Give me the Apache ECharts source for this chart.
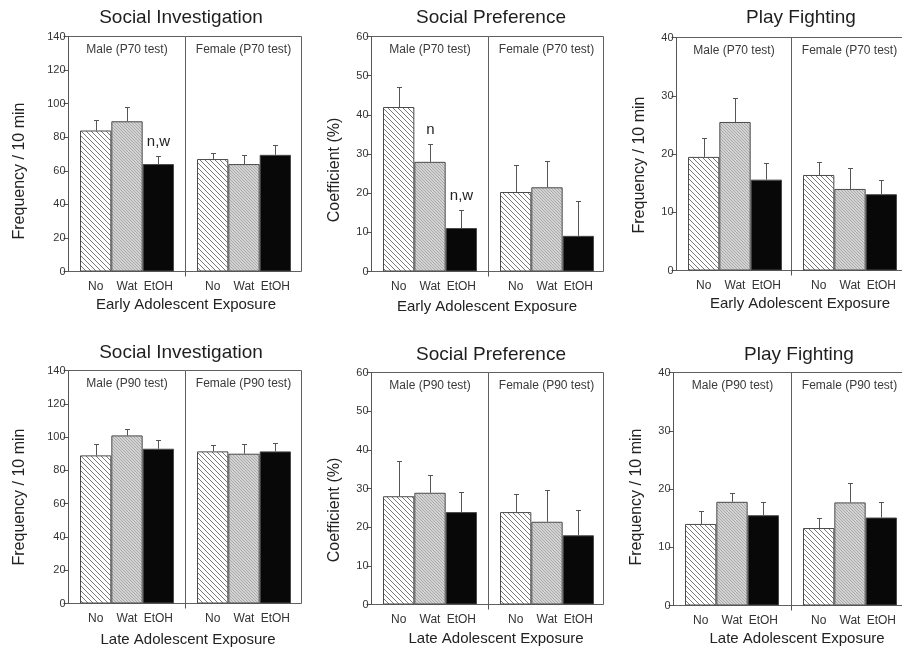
<!DOCTYPE html>
<html><head><meta charset="utf-8">
<script src="https://cdn.jsdelivr.net/npm/echarts@6/dist/echarts.min.js"></script>
<style>html,body{margin:0;padding:0;background:#fff}#c{width:902px;height:652px}</style>
</head><body><div id="c"></div>
<script>
// ---------- data ----------
const treatments = ['No', 'Wat', 'EtOH'];
const sexes = ['Male', 'Female'];
const measures = ['Social Investigation', 'Social Preference', 'Play Fighting'];
const yTitles = ['Frequency / 10 min', 'Coefficient (%)', 'Frequency / 10 min'];
const exposures = ['Early Adolescent Exposure', 'Late Adolescent Exposure'];
const testAges = ['P70 test', 'P90 test'];
const yMax = [140, 60, 40];
const yStep = [20, 10, 10];

// means per sex [male, female], each in treatment order No, Wat, EtOH
const earlySIMean = [[84, 89.5, 64], [67, 64, 69.5]];
const earlySISem  = [[6, 8.5, 5], [3.6, 5.6, 6]];
const earlySPMean = [[42, 28, 11.1], [20.3, 21.5, 9.1]];
const earlySPSem  = [[5, 4.6, 4.6], [6.8, 6.8, 9]];
const earlyPFMean = [[19.5, 25.5, 15.6], [16.4, 14, 13.1]];
const earlyPFSem  = [[3.3, 4.1, 2.9], [2.3, 3.6, 2.5]];
const lateSIMean  = [[89, 101, 93], [91.4, 90, 91.4]];
const lateSISem   = [[7, 3.6, 5], [4, 5.6, 5.2]];
const lateSPMean  = [[28, 28.9, 23.9], [23.9, 21.4, 17.9]];
const lateSPSem   = [[9, 4.5, 5.2], [4.7, 8.3, 6.6]];
const latePFMean  = [[14, 17.8, 15.5], [13.3, 17.7, 15.1]];
const latePFSem   = [[2.2, 1.5, 2.3], [1.8, 3.3, 2.7]];
// significance marks (n = vs No, w = vs Wat)
const earlySIMarks = [['', '', 'n,w'], ['', '', '']];
const earlySPMarks = [['', 'n', 'n,w'], ['', '', '']];
const noMarks = [['', '', ''], ['', '', '']];

const panelMeans = [earlySIMean, earlySPMean, earlyPFMean, lateSIMean, lateSPMean, latePFMean];
const panelSems  = [earlySISem, earlySPSem, earlyPFSem, lateSISem, lateSPSem, latePFSem];
const panelMarks = [earlySIMarks, earlySPMarks, noMarks, noMarks, noMarks, noMarks];

// ---------- layout ----------
const layouts = [
  {L: 68.5,  T: 36.5,  B: 271.5, D: 185.5, R: 301.5, tx: 181, ty: 18,  xtx: 186, xty: 305, ynx: 20,  yny: 171},
  {L: 371.5, T: 36.5,  B: 271.5, D: 488.5, R: 603.5, tx: 491, ty: 18,  xtx: 487, xty: 307, ynx: 335, yny: 170},
  {L: 676.5, T: 37.5,  B: 270.5, D: 791.5, R: 920.5, tx: 801, ty: 18,  xtx: 800, xty: 304, ynx: 640, yny: 165},
  {L: 68.5,  T: 370.5, B: 603.5, D: 185.5, R: 301.5, tx: 181, ty: 353, xtx: 188, xty: 640, ynx: 20,  yny: 497},
  {L: 371.5, T: 372.5, B: 604.5, D: 488.5, R: 603.5, tx: 491, ty: 355, xtx: 496, xty: 639, ynx: 335, yny: 510},
  {L: 673.5, T: 372.5, B: 605.5, D: 791.5, R: 920.5, tx: 799, ty: 355, xtx: 797, xty: 639, ynx: 637, yny: 497}
];

const FONT = '"Liberation Sans", Arial, Helvetica, sans-serif';

function makePattern(bg, fg, size, lw, dir) {
  const c = document.createElement('canvas');
  c.width = c.height = size;
  const g = c.getContext('2d');
  g.fillStyle = bg; g.fillRect(0, 0, size, size);
  g.strokeStyle = fg; g.lineWidth = lw;
  for (const k of [-size, 0, size]) {
    g.beginPath();
    if (dir > 0) { g.moveTo(k, 0); g.lineTo(k + size, size); }
    else { g.moveTo(k, size); g.lineTo(k + size, 0); }
    g.stroke();
  }
  return {image: c, repeat: 'repeat'};
}
const barFills = [
  makePattern('#ffffff', '#7a7a7a', 5, 1, 1),
  makePattern('#d2d2d2', '#a6a6a6', 3, 0.9, 1),
  '#080808'
];

const grids = [], xAxes = [], yAxes = [], series = [], graphics = [];
const axisColor = '#555';
const frameColor = '#606060';

for (let p = 0; p < 6; p++) {
  const row = Math.floor(p / 3), col = p % 3, lay = layouts[p];
  const h = lay.B - lay.T;
  for (let s = 0; s < 2; s++) {
    const fx = s === 0 ? lay.L : lay.D;
    const fw = s === 0 ? lay.D - lay.L : lay.R - lay.D;
    // panels cut at the right page edge: frame drawn with axis lines (no right side)
    const openRight = (s === 1 && col === 2);
    // frame grid
    const gi = grids.length;
    grids.push({left: fx, top: lay.T, width: fw, height: h, show: !openRight, outerBoundsMode: 'none',
      borderColor: frameColor, borderWidth: 1, backgroundColor: 'transparent'});
    if (s === 0) {
      yAxes.push({gridIndex: gi, type: 'value', min: 0, max: yMax[col], interval: yStep[col],
        axisLine: {show: true, lineStyle: {color: axisColor, width: 1}},
        axisTick: {show: true, length: 5, lineStyle: {color: axisColor}},
        axisLabel: {fontSize: 11, color: '#333', margin: 3, fontFamily: FONT},
        splitLine: {show: false}});
      xAxes.push({gridIndex: gi, type: 'value', min: 0, max: 1,
        axisLine: {show: false}, axisLabel: {show: false}, splitLine: {show: false},
        axisTick: {show: true, customValues: [1], length: 5, lineStyle: {color: axisColor}}});
    } else {
      yAxes.push({gridIndex: gi, type: 'value', min: 0, max: yMax[col], interval: yStep[col],
        show: openRight, axisLine: {show: true, lineStyle: {color: frameColor, width: 1}},
        axisTick: {show: false}, axisLabel: {show: false}, splitLine: {show: false}});
      xAxes.push({gridIndex: gi, type: 'value', min: 0, max: 1, position: 'bottom',
        show: openRight, axisLine: {show: true, lineStyle: {color: frameColor, width: 1}},
        axisTick: {show: false}, axisLabel: {show: false}, splitLine: {show: false}});
      if (openRight) {
        xAxes.push({gridIndex: gi, type: 'value', min: 0, max: 1, position: 'top',
          axisLine: {show: true, lineStyle: {color: frameColor, width: 1}},
          axisTick: {show: false}, axisLabel: {show: false}, splitLine: {show: false}});
      }
    }
    // bar grid
    const bi = grids.length;
    grids.push({left: fx + 11.5, top: lay.T, width: 94, height: h, outerBoundsMode: 'none'});
    const bxi = xAxes.length, byi = yAxes.length;
    xAxes.push({gridIndex: bi, type: 'category', data: treatments,
      axisLine: {show: false}, axisTick: {show: false},
      axisLabel: {interval: 0, fontSize: 12, color: '#333', margin: 9, fontFamily: FONT}});
    yAxes.push({gridIndex: bi, type: 'value', min: 0, max: yMax[col], interval: yStep[col], show: false,
      splitLine: {show: false}});
    const means = panelMeans[p][s], sems = panelSems[p][s], marks = panelMarks[p][s];
    series.push({type: 'bar', xAxisIndex: bxi, yAxisIndex: byi, barCategoryGap: '0%',
      data: means.map((v, i) => ({value: v,
        itemStyle: {color: barFills[i], borderColor: '#4a4a4a', borderWidth: 1}})),
      silent: true});
    series.push({type: 'custom', xAxisIndex: bxi, yAxisIndex: byi, silent: true, z: 5,
      data: means.map((v, i) => [i, v, sems[i]]),
      renderItem: (params, api) => {
        const idx = api.value(0), m = api.value(1), e = api.value(2);
        const base = api.coord([idx, m]);
        const top = api.coord([idx, m + e]);
        const x = Math.round(base[0]) + 0.5;
        const yt = Math.round(top[1]) + 0.5;
        const children = [
          {type: 'line', shape: {x1: x, y1: base[1], x2: x, y2: yt}, style: {stroke: '#555', lineWidth: 1}},
          {type: 'line', shape: {x1: x - 2.5, y1: yt, x2: x + 2.5, y2: yt}, style: {stroke: '#555', lineWidth: 1}}
        ];
        const mk = marks[params.dataIndex];
        if (mk) children.push({type: 'text', style: {text: mk, x: x, y: yt - 15, align: 'center',
          verticalAlign: 'middle', fontSize: 15, fontFamily: FONT, fill: '#222'}});
        return {type: 'group', children};
      }});
    // group label
    const gcx = s === 0 ? (lay.L + lay.D) / 2 : lay.D + 58;
    graphics.push({type: 'text', x: gcx, y: lay.T + 13.5, silent: true,
      style: {text: sexes[s] + ' (' + testAges[row] + ')', align: 'center', verticalAlign: 'middle',
        fontSize: 12, fontFamily: FONT, fill: '#3a3a3a'}});
  }
  // panel title
  graphics.push({type: 'text', x: lay.tx, y: lay.ty, silent: true,
    style: {text: measures[col], align: 'center', verticalAlign: 'middle', fontSize: 19, fontFamily: FONT, fill: '#1e1e1e'}});
  // x title
  graphics.push({type: 'text', x: lay.xtx, y: lay.xty, silent: true,
    style: {text: exposures[row], align: 'center', verticalAlign: 'middle', fontSize: 15, fontFamily: FONT, fill: '#222'}});
  // y title
  graphics.push({type: 'text', x: lay.ynx, y: lay.yny, rotation: Math.PI / 2, silent: true,
    style: {text: yTitles[col], align: 'center', verticalAlign: 'middle', fontSize: 16, fontFamily: FONT, fill: '#222'}});
}

const chart = echarts.init(document.getElementById('c'), null, {renderer: 'canvas'});
chart.setOption({
  animation: false,
  backgroundColor: '#ffffff',
  textStyle: {fontFamily: FONT},
  grid: grids, xAxis: xAxes, yAxis: yAxes, series: series,
  graphic: graphics
});
</script></body></html>
